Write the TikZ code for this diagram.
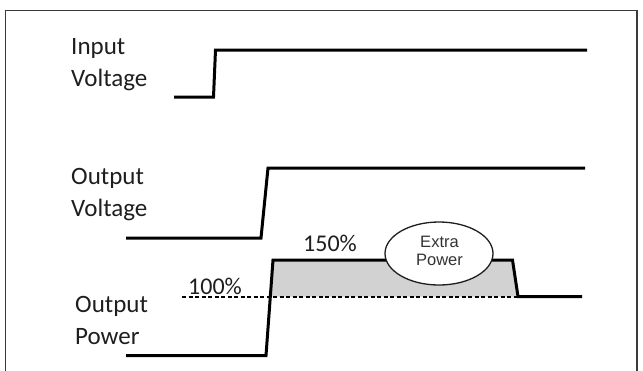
\documentclass[tikz,border=0pt]{standalone}
\usepackage{fontspec}
\setmainfont{Carlito}
\newfontfamily\arialfont{Liberation Sans}
\usetikzlibrary{shapes.geometric}
\definecolor{inkgray}{HTML}{1E1E1E}
\definecolor{fillgray}{HTML}{D2D2D2}
\definecolor{framegray}{HTML}{3A3A3A}
\begin{document}
\begin{tikzpicture}[x=1pt,y=-1pt,
  signal/.style={line width=3pt,line join=miter,black},
  siglabel/.style={anchor=base west,inner sep=0pt,align=left,text=inkgray,
                   font=\fontsize{25}{32}\selectfont},
  pctlabel/.style={anchor=base west,inner sep=0pt,text=inkgray,
                   font=\fontsize{24}{28}\selectfont},
  bubble/.style={ellipse,draw=inkgray,line width=1.3pt,fill=white,
                 minimum width=108pt,minimum height=63pt,inner sep=0pt},
  bubbletext/.style={align=center,inner sep=0pt,text=black!80,
                     font=\arialfont\fontsize{16.5}{18}\selectfont},
  threshold/.style={line width=2pt,black,dash pattern=on 4pt off 2.5pt}]
\useasboundingbox (0,0) rectangle (643,370);

% frame
\draw[framegray,line width=1.5pt] (5.5,372) -- (5.5,10.5) -- (637,10.5) -- (637,372);

% labels (anchored on the baseline of the second line)
\node[siglabel] (inlbl)  at (71,86)  {Input\\Voltage};
\node[siglabel] (outvlbl) at (71,216.5) {Output\\Voltage};
\node[siglabel] (outplbl) at (75,344.5) {Output\\Power};

% input voltage step
\coordinate (in0) at (174,97);
\coordinate (in1) at (213.5,97);
\coordinate (in2) at (215.5,50);
\coordinate (in3) at (587,50);
\draw[signal] (in0) -- (in1) -- (in2) -- (in3);

% output voltage ramp
\coordinate (ov0) at (126,238);
\coordinate (ov1) at (261,238);
\coordinate (ov2) at (268,168);
\coordinate (ov3) at (585,168);
\draw[signal] (ov0) -- (ov1) -- (ov2) -- (ov3);

% output power with overload region
\coordinate (op0) at (126,355.5);
\coordinate (op1) at (266,355.5);
\coordinate (op2) at (273,260);
\coordinate (op3) at (512.5,260);
\coordinate (op4) at (518,296.5);
\coordinate (op5) at (582,296.5);
\coordinate (opx) at (270.4,296.5);
\fill[fillgray] (opx) -- (op2) -- (op3) -- (op4) -- cycle;
\coordinate (th0) at (182,297);
\coordinate (th1) at (517,297);
\draw[threshold] (th0) -- (th1);
\draw[signal] (op0) -- (op1) -- (op2) -- (op3) -- (op4) -- (op5);

% levels
\node[pctlabel] (p150) at (303,251) {150\%};
\node[pctlabel] (p100) at (188,294) {100\%};

% extra power bubble
\node[bubble] (extra) at (439,253.5) {};
\node[bubbletext] (extratext) at (439.5,250.5) {Extra\\Power};
\end{tikzpicture}
\end{document}
